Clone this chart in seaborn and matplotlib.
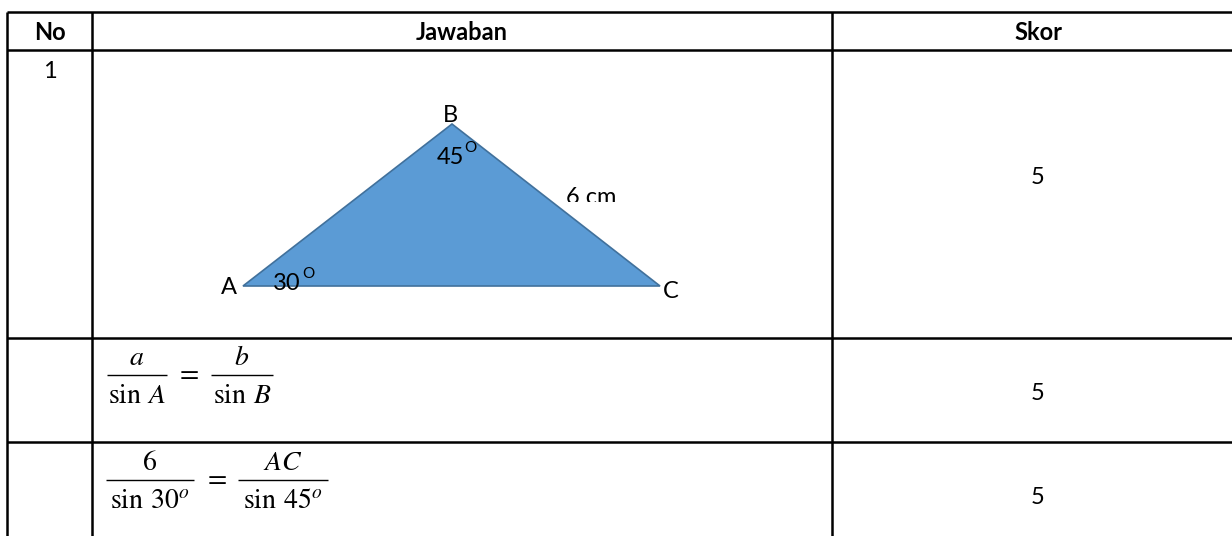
#!/usr/bin/env python3
import matplotlib
matplotlib.use("Agg")
import matplotlib.pyplot as plt
from matplotlib.transforms import Bbox, TransformedBbox
import seaborn as sns

# table content
headers = ["No", "Jawaban", "Skor"]
row_numbers = ["1"]
scores = [5, 5, 5]

# triangle sketch (drawn in page pixels, not to scale like the original)
vertex_names = ["A", "B", "C"]
vertex_x = [243, 452, 660]
vertex_y = [286, 124, 286]
angle_values = [30, 45]  # angle at A, angle at B
side_label = "6 cm"

# sine rule steps
numerators_1 = ["a", "b"]
denominators_1 = [r"\sin\:A", r"\sin\:B"]
numerators_2 = ["6", "AC"]
denominators_2 = [r"\sin\:30^{o}", r"\sin\:45^{o}"]

W, H = 1232, 536
col_x = [7, 92, 832]
row_y = [12, 50, 338, 442]

sns.set_theme(style="white")
plt.rcParams['font.family'] = ['Lato', 'DejaVu Sans']
plt.rcParams['mathtext.fontset'] = 'stix'
plt.rcParams['text.color'] = 'black'

fig = plt.figure(figsize=(W / 100, H / 100), dpi=100)
ax = fig.add_axes([0, 0, 1, 1])
ax.set_xlim(0, W)
ax.set_ylim(H, 0)
ax.axis('off')

# grid lines
for y in row_y:
    ax.plot([col_x[0], W], [y, y], color='black', lw=1.8, solid_capstyle='butt')
for x in col_x:
    ax.plot([x, x], [row_y[0], H], color='black', lw=1.8, solid_capstyle='butt')

# header row
head_cx = [50, 462, 1038]
for cx, txt in zip(head_cx, headers):
    ax.text(cx, 32, txt, ha='center', va='center', fontsize=17,
            fontweight='bold')

ax.text(50, 71, row_numbers[0], ha='center', va='center', fontsize=17)

score_cy = [177, 393, 498]
for cy, s in zip(score_cy, scores):
    ax.text(1038, cy, str(s), ha='center', va='center', fontsize=17)

# triangle
ax.fill(vertex_x, vertex_y, facecolor='#5B9BD5', edgecolor='#41719C',
        lw=1.2, joinstyle='miter')

ax.text(229, 287, vertex_names[0], ha='center', va='center', fontsize=17)
ax.text(450, 116, vertex_names[1], ha='center', va='center', fontsize=17)
ax.text(671, 292, vertex_names[2], ha='center', va='center', fontsize=17)

# angle values with a small raised "O" as degree sign
ax.text(301, 283, str(angle_values[0]), ha='right', va='center', fontsize=17)
ax.text(302, 274, 'O', ha='left', va='center', fontsize=11)
ax.text(464, 157, str(angle_values[1]), ha='right', va='center', fontsize=17)
ax.text(464, 148, 'O', ha='left', va='center', fontsize=11)

# side label, cut off at the bottom like the text box in the original
t = ax.text(591, 198, side_label, ha='center', va='center', fontsize=17,
            clip_on=True)
t.set_clip_box(TransformedBbox(Bbox([[540, 170], [640, 202]]), ax.transData))


def fraction(x0, x1, bar_y, num, den):
    cx = (x0 + x1) / 2
    ax.plot([x0, x1], [bar_y, bar_y], color='black', lw=1.0,
            solid_capstyle='butt')
    ax.text(cx, bar_y - 10, f'${num}$', ha='center', va='baseline',
            fontsize=20)
    ax.text(cx, bar_y + 28, f'${den}$', ha='center', va='baseline',
            fontsize=20)


bar1 = 375
fraction(107, 167, bar1, numerators_1[0], denominators_1[0])
ax.text(187, bar1 + 5, '$=$', ha='center', va='baseline', fontsize=20)
fraction(211, 273, bar1, numerators_1[1], denominators_1[1])

bar2 = 480
fraction(106, 194, bar2, numerators_2[0], denominators_2[0])
ax.text(215, bar2 + 5, '$=$', ha='center', va='baseline', fontsize=20)
fraction(238, 328, bar2, numerators_2[1], denominators_2[1])

fig.savefig('out.png', dpi=100, facecolor='white')
